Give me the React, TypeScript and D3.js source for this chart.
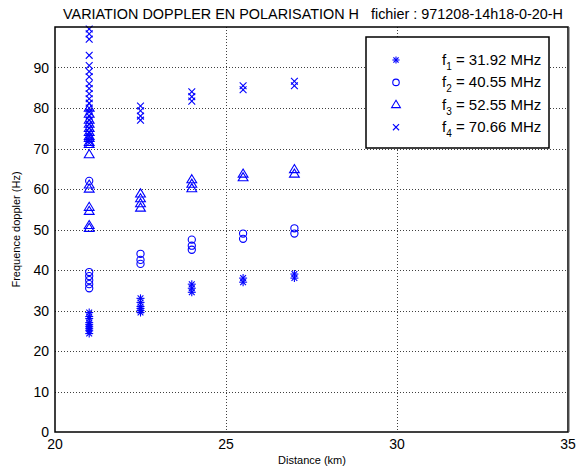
import React from 'react';
import * as d3 from 'd3';

const title = 'VARIATION DOPPLER EN POLARISATION H   fichier : 971208-14h18-0-20-H';
const xLabel = 'Distance (km)';
const yLabel = 'Frequence doppler (Hz)';
const xTicks = [20, 25, 30, 35];
const yTicks = [0, 10, 20, 30, 40, 50, 60, 70, 80, 90];
const xGrid = [25, 30];
const yGrid = [10, 20, 30, 40, 50, 60, 70, 80, 90];

const legendIdx = ['1', '2', '3', '4'];
const legendText = [' = 31.92 MHz', ' = 40.55 MHz', ' = 52.55 MHz', ' = 70.66 MHz'];

// [distance, doppler]
const f1Points: [number, number][] = [
  [21, 29.5], [21, 28.5], [21, 28], [21, 27], [21, 26.5], [21, 26], [21, 25.5], [21, 25], [21, 24.3],
  [22.5, 33], [22.5, 32], [22.5, 31], [22.5, 30.5], [22.5, 30], [22.5, 29.5],
  [24, 36.5], [24, 35.5], [24, 34.5],
  [25.5, 38], [25.5, 37],
  [27, 39], [27, 38],
];
const f2Points: [number, number][] = [
  [21, 62], [21, 39.5], [21, 38.5], [21, 37.5], [21, 36.5], [21, 35.5],
  [22.5, 44], [22.5, 42.5], [22.5, 41.5],
  [24, 47.5], [24, 46], [24, 45],
  [25.5, 49], [25.5, 47.7],
  [27, 50.3], [27, 49],
];
const f3Points: [number, number][] = [
  [21, 80], [21, 78.5], [21, 77], [21, 76], [21, 75], [21, 74], [21, 73], [21, 72.5], [21, 71.5], [21, 71],
  [21, 68.5], [21, 61], [21, 60], [21, 55.5], [21, 54.5], [21, 51], [21, 50.3],
  [22.5, 58.8], [22.5, 57.6], [22.5, 56.4], [22.5, 55.3],
  [24, 62.3], [24, 61.2], [24, 60.1],
  [25.5, 63.7], [25.5, 62.8],
  [27, 64.8], [27, 63.7],
];
const f4Points: [number, number][] = [
  [21, 99.5], [21, 98.3], [21, 97], [21, 93], [21, 90.5], [21, 89], [21, 87.7], [21, 86], [21, 84.8],
  [21, 83.5], [21, 82.3], [21, 81.2], [21, 80], [21, 79], [21, 78], [21, 77], [21, 76], [21, 75],
  [21, 74], [21, 73], [21, 72], [21, 71.3],
  [22.5, 80.5], [22.5, 79.3], [22.5, 78], [22.5, 77],
  [24, 84], [24, 82.8], [24, 81.7],
  [25.5, 85.5], [25.5, 84.5],
  [27, 86.6], [27, 85.5],
];

const BLUE = '#0000ff';
const FONT = 'Liberation Sans, Arial, Helvetica, sans-serif';

const W = 580, H = 472;
const left = 55, right = 568, top = 27, bottom = 432;

type MarkerKind = 'star' | 'circle' | 'tri' | 'x';

function Marker({ kind, x, y, s = 1 }: { kind: MarkerKind; x: number; y: number; s?: number }) {
  const sw = 1.1;
  if (kind === 'star') {
    const r = 4 * s, d = r * 0.72;
    return (
      <g stroke={BLUE} strokeWidth={sw} fill="none">
        <line x1={x - r} y1={y} x2={x + r} y2={y} />
        <line x1={x} y1={y - r} x2={x} y2={y + r} />
        <line x1={x - d} y1={y - d} x2={x + d} y2={y + d} />
        <line x1={x - d} y1={y + d} x2={x + d} y2={y - d} />
      </g>
    );
  }
  if (kind === 'circle') {
    return <circle cx={x} cy={y} r={3.6 * s} stroke={BLUE} strokeWidth={sw} fill="none" />;
  }
  if (kind === 'tri') {
    const r = 5 * s;
    const pts = `${x},${y - r} ${x + r * 0.98},${y + r * 0.62} ${x - r * 0.98},${y + r * 0.62}`;
    return <polygon points={pts} stroke={BLUE} strokeWidth={sw} fill="none" />;
  }
  const r = 3.4 * s;
  return (
    <g stroke={BLUE} strokeWidth={sw}>
      <line x1={x - r} y1={y - r} x2={x + r} y2={y + r} />
      <line x1={x - r} y1={y + r} x2={x + r} y2={y - r} />
    </g>
  );
}

export default function App() {
  const xs = d3.scaleLinear().domain([20, 35]).range([left, right]);
  const ys = d3.scaleLinear().domain([0, 100]).range([bottom, top]);

  const series: { kind: MarkerKind; pts: [number, number][] }[] = [
    { kind: 'star', pts: f1Points },
    { kind: 'circle', pts: f2Points },
    { kind: 'tri', pts: f3Points },
    { kind: 'x', pts: f4Points },
  ];
  const legendKinds: MarkerKind[] = ['star', 'circle', 'tri', 'x'];

  const lg = { x: 366, y: 37, w: 183, h: 111 };

  return (
    <svg width={W} height={H} style={{ position: 'absolute', left: 0, top: 0, background: '#fff' }} fontFamily={FONT}>
      <rect x={0} y={0} width={W} height={H} fill="#fff" />
      {/* grid */}
      <g stroke="#000" strokeWidth={1} strokeDasharray="1,2" opacity={0.75}>
        {xGrid.map((v) => (
          <line key={'gx' + v} x1={xs(v) + 0.5} x2={xs(v) + 0.5} y1={top} y2={bottom} />
        ))}
        {yGrid.map((v) => (
          <line key={'gy' + v} x1={left} x2={right} y1={Math.round(ys(v)) + 0.5} y2={Math.round(ys(v)) + 0.5} />
        ))}
      </g>
      {/* data */}
      {series.map((s, i) => (
        <g key={i}>
          {s.pts.map((p, j) => (
            <Marker key={j} kind={s.kind} x={xs(p[0])} y={ys(p[1])} />
          ))}
        </g>
      ))}
      {/* axes box */}
      <rect x={left} y={top} width={right - left} height={bottom - top} fill="none" stroke="#000" strokeWidth={1.5} />
      <line x1={right + 1} x2={right + 1} y1={top} y2={bottom} stroke="#555" strokeWidth={1} />
      {/* ticks labels */}
      {xTicks.map((v) => (
        <text key={'xt' + v} x={xs(v)} y={bottom + 17} fontSize={14} textAnchor="middle">{v}</text>
      ))}
      {yTicks.map((v) => (
        <text key={'yt' + v} x={left - 6} y={ys(v) + 5} fontSize={14} textAnchor="end">{v}</text>
      ))}
      {/* labels */}
      <text x={312} y={464} fontSize={11} textAnchor="middle">{xLabel}</text>
      <text transform={`translate(20, ${(top + bottom) / 2}) rotate(-90)`} fontSize={11} textAnchor="middle">{yLabel}</text>
      <text x={313} y={19} fontSize={14} textAnchor="middle" textLength={500} lengthAdjust="spacingAndGlyphs" style={{ whiteSpace: 'pre' }}>{title}</text>
      {/* legend */}
      <rect x={lg.x} y={lg.y} width={lg.w} height={lg.h} fill="#fff" stroke="#000" strokeWidth={1.5} />
      {legendKinds.map((k, i) => {
        const cy = 60 + i * 22.4;
        return (
          <g key={'lg' + i}>
            <Marker kind={k} x={396} y={cy} s={0.9} />
            <text x={442} y={cy + 5} fontSize={15}>
              f
              <tspan fontSize={10} dy={5}>{legendIdx[i]}</tspan>
              <tspan dy={-5}>{legendText[i]}</tspan>
            </text>
          </g>
        );
      })}
    </svg>
  );
}
